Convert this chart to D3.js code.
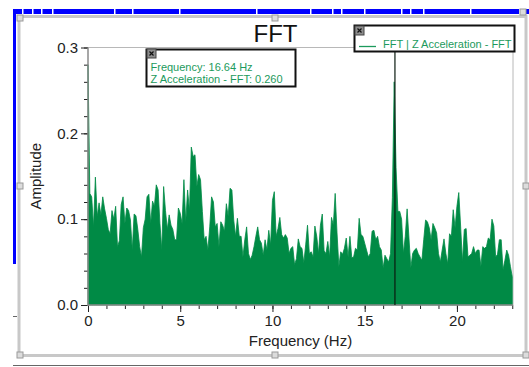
<!DOCTYPE html>
<html>
<head>
<meta charset="utf-8">
<script src="https://cdn.jsdelivr.net/npm/d3@7"></script>
<style>
  html, body { margin: 0; padding: 0; background: #fff; overflow: hidden; }
  svg { display: block; font-family: "Liberation Sans", Arial, sans-serif; }
</style>
</head>
<body>
<svg id="chart" width="529" height="367"></svg>
<script>
// FFT amplitude, one value per 0.1 Hz bin
const amplitude = [
  0.280, 0.130, 0.126, 0.091, 0.149, 0.103, 0.119, 0.105, 0.126, 0.112,
  0.101, 0.088, 0.083, 0.110, 0.100, 0.115, 0.068, 0.075, 0.117, 0.126,
  0.095, 0.113, 0.110, 0.099, 0.064, 0.106, 0.104, 0.088, 0.068, 0.056,
  0.090, 0.100, 0.126, 0.129, 0.095, 0.121, 0.115, 0.140, 0.134, 0.095,
  0.064, 0.138, 0.110, 0.088, 0.105, 0.093, 0.088,
  0.076, 0.076, 0.113, 0.107, 0.095, 0.146, 0.097, 0.134, 0.110, 0.184,
  0.173, 0.175, 0.138, 0.152, 0.146, 0.109, 0.076, 0.080, 0.064, 0.091,
  0.126, 0.120, 0.091, 0.095, 0.068, 0.097, 0.093, 0.086, 0.118, 0.103,
  0.136, 0.134, 0.099, 0.080, 0.101, 0.080, 0.080, 0.056, 0.076, 0.091,
  0.060, 0.053, 0.058, 0.068, 0.080, 0.091, 0.076,
  0.072, 0.058, 0.076, 0.064, 0.087, 0.070, 0.122, 0.132, 0.080, 0.089,
  0.102, 0.082, 0.078, 0.082, 0.078, 0.060, 0.066, 0.068, 0.047, 0.054,
  0.077, 0.068, 0.066, 0.049, 0.070, 0.093, 0.060, 0.062, 0.056, 0.092,
  0.080, 0.060, 0.093, 0.106, 0.063, 0.060, 0.074, 0.056, 0.102, 0.093,
  0.130, 0.084, 0.045, 0.062, 0.059, 0.066,
  0.078, 0.056, 0.080, 0.055, 0.056, 0.066, 0.064, 0.101, 0.082, 0.080,
  0.072, 0.064, 0.056, 0.060, 0.086, 0.087, 0.076, 0.080, 0.068, 0.064,
  0.043, 0.058, 0.054, 0.050, 0.060, 0.125, 0.260, 0.160, 0.109, 0.109,
  0.100, 0.060, 0.080, 0.112, 0.078, 0.043, 0.060, 0.064, 0.066, 0.060,
  0.056, 0.052, 0.076, 0.099, 0.097, 0.090, 0.076,
  0.095, 0.090, 0.084, 0.060, 0.050, 0.064, 0.077, 0.060, 0.048, 0.083,
  0.080, 0.111, 0.090, 0.115, 0.131, 0.092, 0.050, 0.088, 0.089, 0.056,
  0.058, 0.060, 0.068, 0.060, 0.064, 0.064, 0.045, 0.068, 0.066, 0.068,
  0.078, 0.076, 0.100, 0.092, 0.056, 0.059, 0.076, 0.076, 0.041, 0.052,
  0.064, 0.058, 0.045, 0.033
];
const freqStep = 0.1;
const freqMax = 23.04;
const ampMax = 0.3;
const yTickLabels = [0.0, 0.1, 0.2, 0.3];
const xTickLabels = [0, 5, 10, 15, 20];
const cursorFreq = 16.64;
const cursorValue = 0.260;
const seriesName = "FFT | Z Acceleration - FFT";
const chartTitle = "FFT";
const xTitle = "Frequency (Hz)";
const yTitle = "Amplitude";

const green = "#008a45";
const textGreen = "#1c9a5c";

const svg = d3.select("#chart");

// window chrome -------------------------------------------------------
const topGaps = [22, 32, 41, 52, 114, 132, 179, 256, 310, 332, 341, 364, 401, 410, 423, 470, 519];
svg.append("rect").attr("x", 13).attr("y", 9).attr("width", 516).attr("height", 5).attr("fill", "#0000ff");
svg.append("rect").attr("x", 13).attr("y", 9).attr("width", 3).attr("height", 255).attr("fill", "#0000ff");
svg.selectAll(".gap").data(topGaps).enter().append("rect")
  .attr("x", d => d).attr("y", 9).attr("width", 1.5).attr("height", 5).attr("fill", "#fff");

svg.append("rect").attr("x", 19).attr("y", 16.5).attr("width", 507).attr("height", 339)
  .attr("fill", "none").attr("stroke", "#c8c8c8").attr("stroke-width", 3);
svg.append("line").attr("x1", 13).attr("x2", 529).attr("y1", 365.5).attr("y2", 365.5)
  .attr("stroke", "#666").attr("stroke-width", 1);
svg.append("line").attr("x1", 13).attr("x2", 17).attr("y1", 316.5).attr("y2", 316.5)
  .attr("stroke", "#666").attr("stroke-width", 1);

const handles = [[20, 18], [275, 18], [523, 12], [20, 186], [526, 186], [20, 355], [275, 355], [526, 355]];
svg.selectAll(".handle").data(handles).enter().append("rect")
  .attr("x", d => d[0] - 3).attr("y", d => d[1] - 3).attr("width", 6).attr("height", 6)
  .attr("fill", "#dcdcdc").attr("stroke", "#9a9a9a").attr("stroke-width", 1);

// plot ----------------------------------------------------------------
const plotL = 88, plotR = 513, plotT = 47.5, plotB = 305;
const x = d3.scaleLinear().domain([0, freqMax]).range([plotL, plotR]);
const y = d3.scaleLinear().domain([0, ampMax]).range([plotB, plotT]);

svg.append("path")
  .attr("d", `M${plotL},${plotT}H${plotR}V${plotB}`)
  .attr("fill", "none").attr("stroke", "#b8b8b8").attr("stroke-width", 1);

const area = d3.area()
  .x((d, i) => x(i * freqStep))
  .y0(y(0))
  .y1(d => y(d));
svg.append("path").datum(amplitude)
  .attr("d", area)
  .attr("fill", green)
  .attr("stroke", green)
  .attr("stroke-width", 0.8)
  .attr("stroke-linejoin", "miter");

// axes
const yMajor = svg.append("g").attr("transform", `translate(${plotL},0)`)
  .call(d3.axisLeft(y).tickValues(yTickLabels).tickSize(7).tickPadding(3).tickFormat(d3.format(".1f")));
const yMinor = svg.append("g").attr("transform", `translate(${plotL},0)`)
  .call(d3.axisLeft(y).tickValues(d3.range(0, 0.3001, 0.02)).tickSize(4).tickFormat(""));
const xMajor = svg.append("g").attr("transform", `translate(0,${plotB})`)
  .call(d3.axisBottom(x).tickValues(xTickLabels).tickSize(7).tickPadding(3).tickFormat(d3.format("d")));
const xMinor = svg.append("g").attr("transform", `translate(0,${plotB})`)
  .call(d3.axisBottom(x).tickValues(d3.range(0, 23.01, 1)).tickSize(4).tickFormat(""));

[yMajor, yMinor, xMajor, xMinor].forEach(g => {
  g.select(".domain").remove();
  g.selectAll(".tick line").attr("stroke", "#222").attr("stroke-width", 1);
  g.selectAll(".tick text").attr("fill", "#222").style("font-size", "15px")
    .style("font-family", "'Liberation Sans', Arial, sans-serif");
});

svg.append("line").attr("x1", plotL).attr("x2", plotL).attr("y1", plotT).attr("y2", plotB + 1)
  .attr("stroke", "#8a8a8a").attr("stroke-width", 1.5);
svg.append("line").attr("x1", plotL).attr("x2", plotR).attr("y1", plotB).attr("y2", plotB)
  .attr("stroke", "#8a8a8a").attr("stroke-width", 1.5);

// titles
svg.append("text").attr("x", 275.5).attr("y", 42).attr("text-anchor", "middle")
  .attr("fill", "#111").style("font-size", "24px").text(chartTitle);
svg.append("text").attr("x", (plotL + plotR) / 2).attr("y", 346).attr("text-anchor", "middle")
  .attr("fill", "#222").style("font-size", "15px").text(xTitle);
svg.append("text").attr("transform", `translate(41,${(plotT + plotB) / 2}) rotate(-90)`)
  .attr("text-anchor", "middle").attr("fill", "#222").style("font-size", "15px").text(yTitle);

// cursor line
svg.append("line").attr("x1", x(cursorFreq)).attr("x2", x(cursorFreq))
  .attr("y1", plotT).attr("y2", plotB)
  .attr("stroke", "#0a1a10").attr("stroke-width", 1.2);

function closeBox(cx, cy) {
  const g = svg.append("g");
  g.append("rect").attr("x", cx).attr("y", cy).attr("width", 9).attr("height", 9)
    .attr("fill", "#8c8c8c").attr("stroke", "#444").attr("stroke-width", 1);
  g.append("path").attr("d", `M${cx + 2.5},${cy + 2.5}L${cx + 6.5},${cy + 6.5}M${cx + 6.5},${cy + 2.5}L${cx + 2.5},${cy + 6.5}`)
    .attr("stroke", "#111").attr("stroke-width", 1.2);
}

// readout box
svg.append("rect").attr("x", 146.5).attr("y", 49.5).attr("width", 149).attr("height", 37)
  .attr("fill", "#fff").attr("stroke", "#111").attr("stroke-width", 2);
closeBox(147, 49);
const fmt3 = d3.format(".3f");
svg.append("text").attr("x", 150.5).attr("y", 71).attr("fill", textGreen).style("font-size", "11px")
  .text(`Frequency: ${d3.format(".2f")(cursorFreq)} Hz`);
svg.append("text").attr("x", 150.5).attr("y", 83).attr("fill", textGreen).style("font-size", "11px")
  .text(`Z Acceleration - FFT: ${fmt3(cursorValue)}`);

// legend
svg.append("rect").attr("x", 354.5).attr("y", 25.5).attr("width", 160).attr("height", 26)
  .attr("fill", "#fff").attr("stroke", "#111").attr("stroke-width", 2);
closeBox(355, 26);
svg.append("line").attr("x1", 359).attr("x2", 376).attr("y1", 46.5).attr("y2", 46.5)
  .attr("stroke", textGreen).attr("stroke-width", 1.3);
svg.append("text").attr("x", 383).attr("y", 48).attr("fill", textGreen).style("font-size", "11px")
  .text(seriesName);
</script>
</body>
</html>
